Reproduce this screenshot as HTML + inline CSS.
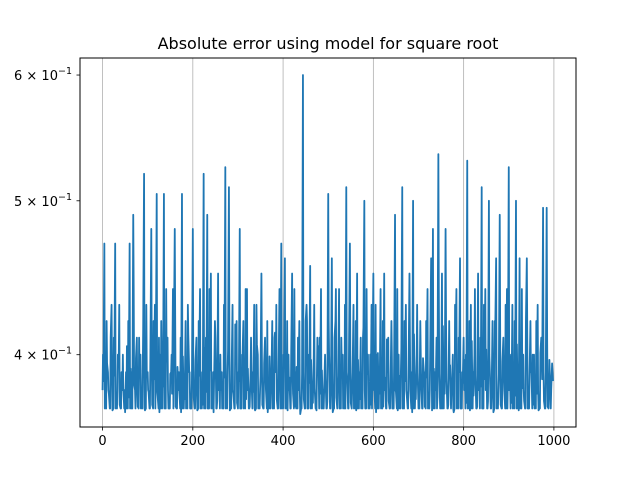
<!DOCTYPE html>
<html><head><meta charset="utf-8"><style>
body{margin:0;background:#fff}
svg{display:block;font-family:"DejaVu Sans","Liberation Sans",sans-serif}
</style></head><body>
<svg id="chart" width="640" height="480" viewBox="0 0 640 480">
<text x="328" y="49" text-anchor="middle" font-size="16">Absolute error using model for square root</text>
<g id="grid"></g>
<g id="series"></g>
<g id="xticks"></g>
<g id="yticks"></g>
<rect x="80" y="58" width="496" height="369" fill="none" stroke="#000" stroke-width="1"/>
</svg>
<script>
const xTicks=[0,200,400,600,800,1000];
const yTickVals=[0.4,0.5,0.6];
const yTickMant=["4","5","6"];
const step=4;
const values=[
0.38,0.47,0.37,0.39,0.37,0.43,0.37,0.47,0.37,0.40,
0.37,0.38,0.37,0.39,0.37,0.47,0.37,0.49,0.38,0.41,
0.37,0.40,0.37,0.52,0.37,0.39,0.37,0.48,0.37,0.43,
0.505,0.37,0.40,0.37,0.505,0.37,0.41,0.37,0.39,0.44,
0.48,0.37,0.38,0.37,0.505,0.37,0.42,0.37,0.39,0.37,
0.48,0.37,0.41,0.37,0.44,0.37,0.52,0.37,0.49,0.37,
0.45,0.37,0.40,0.37,0.45,0.37,0.39,0.37,0.525,0.37,
0.51,0.37,0.43,0.37,0.40,0.37,0.48,0.37,0.42,0.37,
0.44,0.37,0.39,0.37,0.43,0.37,0.40,0.37,0.45,0.37,
0.41,0.37,0.38,0.37,0.42,0.37,0.39,0.37,0.44,0.47,
0.37,0.46,0.37,0.40,0.37,0.45,0.37,0.39,0.37,0.42,
0.37,0.60,0.37,0.43,0.37,0.455,0.37,0.40,0.37,0.41,
0.37,0.44,0.37,0.39,0.37,0.505,0.37,0.46,0.37,0.42,
0.37,0.44,0.37,0.40,0.37,0.51,0.37,0.47,0.37,0.43,
0.37,0.45,0.37,0.41,0.37,0.50,0.37,0.40,0.37,0.43,
0.45,0.37,0.40,0.37,0.44,0.37,0.45,0.37,0.39,0.37,
0.42,0.37,0.49,0.37,0.40,0.37,0.51,0.37,0.43,0.37,
0.45,0.37,0.50,0.37,0.40,0.37,0.42,0.37,0.39,0.37,
0.44,0.37,0.46,0.48,0.37,0.41,0.535,0.37,0.45,0.37,
0.48,0.37,0.42,0.37,0.40,0.37,0.44,0.37,0.46,0.37,
0.41,0.37,0.53,0.37,0.43,0.37,0.40,0.37,0.45,0.37,
0.51,0.37,0.44,0.37,0.50,0.37,0.42,0.37,0.46,0.37,
0.49,0.37,0.41,0.37,0.44,0.525,0.37,0.43,0.37,0.50,
0.37,0.46,0.37,0.40,0.37,0.46,0.37,0.42,0.37,0.40,
0.37,0.43,0.37,0.41,0.495,0.37,0.495,0.37,0.38,0.395
];
const between=[
0.385,0.372,0.395,0.378,0.41,0.369,0.388,0.375,0.40,0.372,
0.39,0.381,0.368,0.405,0.376,0.392,0.37,0.383,0.398,0.371,
0.387,0.374,0.415,0.369,0.39,0.379,0.401,0.372,0.386,0.394,
0.377,0.368,0.42,0.382,0.373,0.396,0.37,0.389,0.378,0.407,
0.371,0.393,0.38,0.368,0.399,0.375,0.386,0.412,0.37,0.384,
0.376,0.397,0.369,0.388,0.381,0.372,0.404,0.379,0.37,0.391,
0.383,0.368,0.41,0.374,0.395,0.38,0.371,0.387,0.376,0.402,
0.369,0.39,0.378,0.418,0.373,0.385,0.37,0.398,0.382,0.375,
0.392,0.371,0.386,0.379,0.369,0.406,0.377,0.388,0.372,0.395,
0.38,0.368,0.399,0.384,0.371,0.413,0.375,0.39,0.37,0.383,
0.396,0.374,0.369,0.387,0.402,0.378,0.371,0.393,0.38,0.367,
0.389,0.375,0.42,0.37,0.384,0.397,0.373,0.381,0.369,0.405,
0.378,0.391,0.37,0.386,0.374,0.399,0.382,0.368,0.41,0.376,
0.388,0.371,0.394,0.379,0.37,0.386,0.403,0.373,0.39,0.381,
0.369,0.397,0.375,0.384,0.416,0.37,0.389,0.377,0.372,0.395,
0.383,0.368,0.401,0.378,0.39,0.371,0.387,0.409,0.374,0.382,
0.37,0.396,0.379,0.369,0.388,0.404,0.372,0.385,0.377,0.393,
0.38,0.368,0.412,0.375,0.39,0.37,0.383,0.398,0.371,0.387,
0.374,0.405,0.369,0.392,0.38,0.376,0.389,0.37,0.417,0.378,
0.386,0.372,0.394,0.381,0.368,0.401,0.375,0.39,0.37,0.384,
0.397,0.373,0.38,0.369,0.408,0.377,0.388,0.371,0.395,0.382,
0.37,0.386,0.403,0.374,0.391,0.379,0.368,0.414,0.375,0.389,
0.372,0.396,0.38,0.37,0.385,0.399,0.373,0.388,0.377,0.406,
0.369,0.392,0.381,0.374,0.42,0.37,0.387,0.395,0.372,0.383,
0.378,0.369,0.401,0.386,0.374,0.39,0.371,0.397,0.38,0.385
];
const quarter=[
0.40,0.37,0.42,0.38,0.37,0.39,0.41,0.37,0.38,0.43,
0.37,0.40,0.38,0.37,0.42,0.37,0.39,0.44,0.37,0.38,
0.41,0.37,0.39,0.37,0.43,0.38,0.37,0.40,0.42,0.37,
0.38,0.41,0.37,0.39,0.37,0.44,0.38,0.37,0.40,0.37,
0.42,0.37,0.39,0.41,0.37,0.38,0.37,0.43,0.39,0.37,
0.40,0.37,0.38,0.42,0.37,0.39,0.37,0.41,0.37,0.44,
0.37,0.39,0.42,0.37,0.38,0.40,0.37,0.43,0.37,0.39,
0.41,0.37,0.38,0.37,0.42,0.39,0.37,0.40,0.37,0.44,
0.38,0.37,0.41,0.39,0.37,0.43,0.37,0.38,0.40,0.37,
0.39,0.42,0.37,0.38,0.37,0.41,0.43,0.37,0.39,0.37,
0.40,0.37,0.42,0.38,0.37,0.39,0.44,0.37,0.41,0.38,
0.37,0.39,0.37,0.42,0.40,0.37,0.38,0.43,0.37,0.39,
0.41,0.37,0.38,0.40,0.37,0.42,0.37,0.39,0.37,0.44,
0.38,0.37,0.41,0.37,0.43,0.39,0.37,0.40,0.38,0.37,
0.42,0.37,0.39,0.37,0.41,0.38,0.44,0.37,0.40,0.37,
0.38,0.43,0.37,0.39,0.37,0.42,0.38,0.37,0.41,0.37,
0.40,0.37,0.38,0.44,0.37,0.39,0.37,0.42,0.38,0.37,
0.41,0.39,0.37,0.38,0.43,0.37,0.40,0.37,0.39,0.42,
0.37,0.38,0.41,0.37,0.39,0.37,0.44,0.38,0.37,0.40,
0.42,0.37,0.39,0.38,0.37,0.43,0.37,0.41,0.37,0.39,
0.38,0.40,0.37,0.42,0.37,0.39,0.44,0.37,0.38,0.41,
0.37,0.43,0.38,0.37,0.40,0.37,0.39,0.42,0.37,0.38,
0.41,0.37,0.39,0.43,0.37,0.38,0.40,0.37,0.42,0.37,
0.39,0.37,0.44,0.38,0.37,0.41,0.37,0.39,0.40,0.37,
0.42,0.38,0.37,0.40,0.39,0.37,0.41,0.38,0.37,0.39
];
const NS="http://www.w3.org/2000/svg";
const X0=80,X1=576,Y0=58,Y1=427;
const xmin=-49.95,xmax=1048.95;
const lmin=Math.log10(0.3602),lmax=Math.log10(0.615);
function sx(v){return X0+(v-xmin)/(xmax-xmin)*(X1-X0);}
function sy(v){return Y1-(Math.log10(v)-lmin)/(lmax-lmin)*(Y1-Y0);}
function mk(t,a,p){const e=document.createElementNS(NS,t);for(const k in a)e.setAttribute(k,a[k]);p.appendChild(e);return e;}
const grid=document.getElementById('grid'),xt=document.getElementById('xticks'),yt=document.getElementById('yticks'),ser=document.getElementById('series');
xTicks.forEach(v=>{
 const x=sx(v);
 const g=mk('line',{x1:x,x2:x,y1:Y0,y2:Y1,stroke:'#b0b0b0','stroke-width':0.8},grid);
 
 
 const t=mk('line',{x1:x,x2:x,y1:Y1,y2:Y1+3.5,stroke:'#000','stroke-width':0.8},xt);
 
 
 const l=mk('text',{x:x,y:Y1+18,'text-anchor':'middle','font-size':13},xt);
 l.textContent=v;
 
 
});
yTickVals.forEach((v,i)=>{
 const y=sy(v);
 const t=mk('line',{x1:X0-3.5,x2:X0,y1:y,y2:y,stroke:'#000','stroke-width':0.8},yt);
 
 
 const l=mk('text',{x:X0-8,y:y+5,'text-anchor':'end','font-size':13},yt);
 l.innerHTML=yTickMant[i]+' × 10<tspan dy="-6" font-size="9.5">−1</tspan>';
 
 
});
const all=[];
values.forEach((v,i)=>{
 all.push([i*step,v]);
 if(i<quarter.length) all.push([i*step+1,quarter[i]]);
 if(i<between.length) all.push([i*step+2,between[i]]);
});
const pts=all.map(p=>sx(p[0]).toFixed(2)+','+sy(p[1]).toFixed(2)).join(' ');
const line=mk('polyline',{points:pts,fill:'none',stroke:'#1f77b4','stroke-width':1.8,'stroke-linejoin':'round'},ser);


</script>
</body></html>
